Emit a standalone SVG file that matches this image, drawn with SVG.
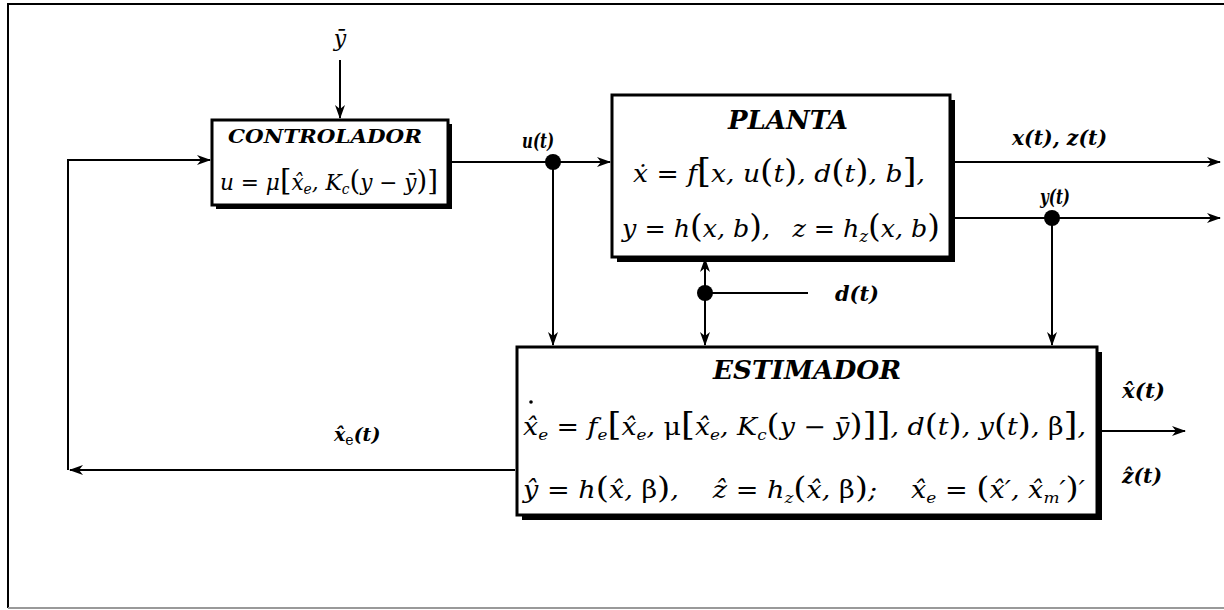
<svg xmlns="http://www.w3.org/2000/svg" width="1224" height="610" viewBox="0 0 1224 610">
<style>
.ti{font-style:italic;font-weight:bold}
.m{font-style:italic}
.up{font-style:normal}
.ln{stroke:#000;stroke-width:2;fill:none}
.box{fill:#fff;stroke:#000;stroke-width:3}
</style>
<defs>
<marker id="ah" viewBox="0 0 14 10" refX="13" refY="5" markerWidth="14" markerHeight="10" markerUnits="userSpaceOnUse" orient="auto">
<path d="M0,0 L14,5 L0,10 L4,5 z" fill="#000"/>
</marker>
</defs>
<rect width="1224" height="610" fill="#fff"/>
<g id="frame">
<path d="M1224,4 H8 V608" class="ln"/>
<path d="M8,608 H1224" stroke="#999" stroke-width="2" fill="none"/>
</g>
<g id="connectors">
<path d="M340,60 V118" class="ln" marker-end="url(#ah)"/>
<path d="M448,162 H610" class="ln" marker-end="url(#ah)"/>
<path d="M553,162 V345" class="ln" marker-end="url(#ah)"/>
<path d="M952,162 H1220" class="ln" marker-end="url(#ah)"/>
<path d="M952,218 H1220" class="ln" marker-end="url(#ah)"/>
<path d="M1052,218 V345" class="ln" marker-end="url(#ah)"/>
<path d="M705,293 V259" class="ln" marker-end="url(#ah)"/>
<path d="M705,293 V345" class="ln" marker-end="url(#ah)"/>
<path d="M705,293 H808" class="ln"/>
<path d="M1099,431 H1185" class="ln" marker-end="url(#ah)"/>
<path d="M515,470 H70" class="ln" marker-end="url(#ah)"/>
<path d="M68,470 V160 H210" class="ln" marker-end="url(#ah)"/>
<circle cx="553" cy="162" r="8" fill="#000"/>
<circle cx="1052" cy="218" r="8" fill="#000"/>
<circle cx="705" cy="293" r="8" fill="#000"/>
</g>
<g fill="#000" font-family="DejaVu Serif, Liberation Serif, serif">
<g id="labels">
<text class="m" x="340" y="46" font-size="22" text-anchor="middle">y&#x0304;</text>
<text class="ti" x="522" y="148" font-size="20" textLength="32" lengthAdjust="spacingAndGlyphs">u(t)</text>
<text class="ti" x="1012" y="145" font-size="20" textLength="95" lengthAdjust="spacingAndGlyphs">x(t), z(t)</text>
<text class="ti" x="1040" y="204" font-size="20" textLength="30" lengthAdjust="spacingAndGlyphs">y(t)</text>
<text class="ti" x="835" y="301" font-size="21" textLength="44" lengthAdjust="spacingAndGlyphs">d(t)</text>
<text class="ti" x="1122" y="398" font-size="21" textLength="43" lengthAdjust="spacingAndGlyphs">x&#x0302;(t)</text>
<text class="ti" x="1122" y="483" font-size="21" textLength="40" lengthAdjust="spacingAndGlyphs">z&#x0302;(t)</text>
<text class="ti" x="334" y="441" font-size="19">x&#x0302;<tspan font-size="14" font-weight="normal" font-style="normal" dy="4">e</tspan><tspan dy="-4">(t)</tspan></text>
</g>
<g id="controlador">
<rect x="216" y="124" width="236" height="85" fill="#000"/>
<rect x="212" y="120" width="236" height="85" class="box"/>
<text class="ti" x="228" y="143" font-size="19" textLength="194" lengthAdjust="spacingAndGlyphs">CONTROLADOR</text>
<text class="m" x="220" y="190" font-size="22" textLength="218" lengthAdjust="spacingAndGlyphs">u = μ<tspan font-size="30" class="up">[</tspan>x&#x0302;<tspan font-size="14" dy="4">e</tspan><tspan dy="-4">, K</tspan><tspan font-size="14" dy="4">c</tspan><tspan dy="-4" font-size="28" class="up">(</tspan>y − y&#x0304;<tspan font-size="28" class="up">)]</tspan></text>
</g>
<g id="planta">
<rect x="617" y="100" width="338" height="162" fill="#000"/>
<rect x="612" y="95" width="338" height="162" class="box"/>
<text class="ti" x="788" y="129" font-size="26" text-anchor="middle" textLength="120" lengthAdjust="spacingAndGlyphs">PLANTA</text>
<text class="m" x="633" y="182" font-size="25" textLength="292" lengthAdjust="spacingAndGlyphs">ẋ = f<tspan font-size="34" class="up">[</tspan>x, u<tspan font-size="32" class="up">(</tspan>t<tspan font-size="32" class="up">)</tspan>, d<tspan font-size="32" class="up">(</tspan>t<tspan font-size="32" class="up">)</tspan>, b<tspan font-size="34" class="up">]</tspan>,</text>
<text class="m" x="622" y="237" font-size="25" textLength="318" lengthAdjust="spacingAndGlyphs">y = h<tspan font-size="32" class="up">(</tspan>x, b<tspan font-size="32" class="up">)</tspan>,<tspan dx="22">z = h</tspan><tspan font-size="16" dy="5">z</tspan><tspan dy="-5" font-size="32" class="up">(</tspan>x, b<tspan font-size="32" class="up">)</tspan></text>
</g>
<g id="estimador">
<rect x="522" y="352" width="580" height="168" fill="#000"/>
<rect x="517" y="347" width="580" height="168" class="box"/>
<text class="ti" x="807" y="379" font-size="26" text-anchor="middle" textLength="188" lengthAdjust="spacingAndGlyphs">ESTIMADOR</text>
<circle cx="531" cy="402" r="1.8" fill="#000"/>
<text class="m" x="523" y="435" font-size="24" textLength="563" lengthAdjust="spacingAndGlyphs">x&#x0302;<tspan font-size="15" dy="5">e</tspan><tspan dy="-5"> = f</tspan><tspan font-size="15" dy="5">e</tspan><tspan dy="-5" font-size="32" class="up">[</tspan>x&#x0302;<tspan font-size="15" dy="5">e</tspan><tspan dy="-5">, </tspan><tspan class="up">μ</tspan><tspan font-size="32" class="up">[</tspan>x&#x0302;<tspan font-size="15" dy="5">e</tspan><tspan dy="-5">, K</tspan><tspan font-size="15" dy="5">c</tspan><tspan dy="-5" font-size="30" class="up">(</tspan>y − y&#x0304;<tspan font-size="30" class="up">)</tspan><tspan font-size="32" class="up">]]</tspan>, d<tspan font-size="30" class="up">(</tspan>t<tspan font-size="30" class="up">)</tspan>, y<tspan font-size="30" class="up">(</tspan>t<tspan font-size="30" class="up">)</tspan>, <tspan class="up">β</tspan><tspan font-size="32" class="up">]</tspan>,</text>
<text class="m" x="523" y="498" font-size="24" textLength="562" lengthAdjust="spacingAndGlyphs">y&#x0302; = h<tspan font-size="30" class="up">(</tspan>x&#x0302;, <tspan class="up">β</tspan><tspan font-size="30" class="up">)</tspan>,<tspan dx="30">z&#x0302; = h</tspan><tspan font-size="15" dy="5">z</tspan><tspan dy="-5" font-size="30" class="up">(</tspan>x&#x0302;, <tspan class="up">β</tspan><tspan font-size="30" class="up">)</tspan>;<tspan dx="30">x&#x0302;</tspan><tspan font-size="15" dy="5">e</tspan><tspan dy="-5"> = </tspan><tspan font-size="30" class="up">(</tspan>x&#x0302;′, x&#x0302;<tspan font-size="15" dy="5">m</tspan><tspan dy="-5">′</tspan><tspan font-size="30" class="up">)</tspan>′</text>
</g>
</g>
</svg>
